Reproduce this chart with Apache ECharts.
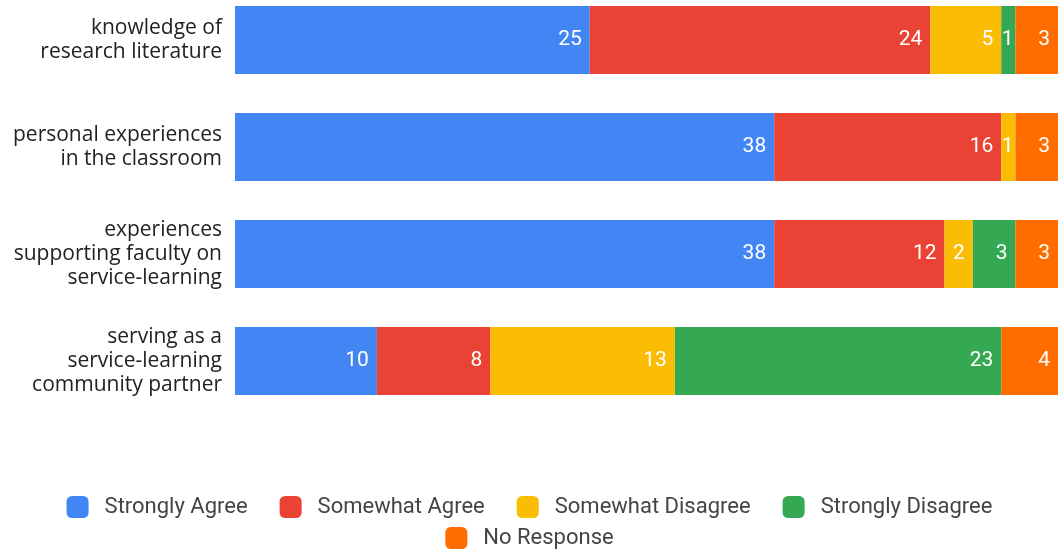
<!DOCTYPE html>
<html><head><meta charset="utf-8">
<script src="https://cdn.jsdelivr.net/npm/echarts@6/dist/echarts.min.js"></script>
<style>html,body{margin:0;padding:0;background:#fff;overflow:hidden}#c{width:1059px;height:564px;margin-top:-14px}</style>
</head><body><div id="c"></div>
<script>
const categories = ["knowledge of\nresearch literature", "personal experiences\nin the classroom", "experiences\nsupporting faculty on\nservice-learning", "serving as a\nservice-learning\ncommunity partner"];
const seriesNames = ["Strongly Agree", "Somewhat Agree", "Somewhat Disagree", "Strongly Disagree", "No Response"];
const stronglyAgree = [25, 38, 38, 10];
const somewhatAgree = [24, 16, 12, 8];
const somewhatDisagree = [5, 1, 2, 13];
const stronglyDisagree = [1, 0, 3, 23];
const noResponse = [3, 3, 3, 4];
const colors = ["#4285F4", "#EA4335", "#FBBC04", "#34A853", "#FF6D01"];
const values = [stronglyAgree, somewhatAgree, somewhatDisagree, stronglyDisagree, noResponse];

const chart = echarts.init(document.getElementById('c'));
const legendText = {fontFamily: 'Roboto', fontSize: 22, color: '#444', padding: [0, 0, 0, 11]};
chart.setOption({
  animation: false,
  grid: {left: 235, right: 1, top: 0.5, height: 428},
  xAxis: {type: 'value', min: 0, max: 58, show: false},
  yAxis: {type: 'category', data: categories, inverse: true,
    axisLine: {show: false}, axisTick: {show: false},
    axisLabel: {margin: 13, fontFamily: 'Open Sans', fontSize: 21, lineHeight: 24, color: '#222', align: 'right'}},
  legend: [
    {data: seriesNames.slice(0, 4), left: 'center', top: 505, itemWidth: 22, itemHeight: 22, itemGap: 32, icon: 'roundRect', textStyle: legendText},
    {data: seriesNames.slice(4), left: 'center', top: 536, itemWidth: 22, itemHeight: 22, itemGap: 32, icon: 'roundRect', textStyle: legendText}
  ],
  series: seriesNames.map((n, i) => ({
    name: n, type: 'bar', stack: 'total', barWidth: 68,
    data: values[i].map(v => v === 1 ? {value: v, label: {distance: 2}} : v),
    itemStyle: {color: colors[i]},
    label: {show: true, position: 'insideRight', distance: 8, color: '#fff', fontFamily: 'Roboto', fontSize: 21,
      formatter: p => p.value ? String(p.value) : ''}
  }))
});
</script></body></html>
